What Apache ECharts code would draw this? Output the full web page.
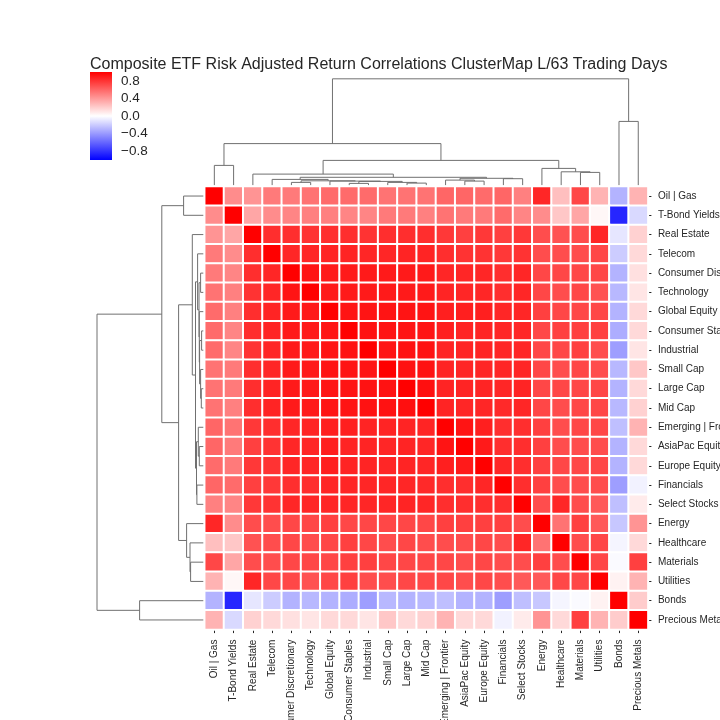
<!DOCTYPE html>
<html><head><meta charset="utf-8">
<script src="https://cdn.jsdelivr.net/npm/echarts@6/dist/echarts.min.js"></script>
<style>html,body{margin:0;padding:0;background:#fff}#c{width:720px;height:720px}</style>
</head><body><div id="c"></div>
<script>
// ---- data ----
const labels = ['Oil | Gas','T-Bond Yields','Real Estate','Telecom','Consumer Discretionary','Technology','Global Equity','Consumer Staples','Industrial','Small Cap','Large Cap','Mid Cap','Emerging | Frontier','AsiaPac Equity','Europe Equity','Financials','Select Stocks','Energy','Healthcare','Materials','Utilities','Bonds','Precious Metals'];

// lower triangle of the correlation matrix (row i has i+1 values, ending with the diagonal)
const corrLower = [
 [1],
 [0.45,1],
 [0.42,0.35,1],
 [0.52,0.45,0.82,1],
 [0.52,0.48,0.82,0.85,1],
 [0.55,0.50,0.80,0.85,0.92,1],
 [0.58,0.50,0.82,0.86,0.90,0.90,1],
 [0.58,0.48,0.82,0.86,0.90,0.90,0.92,1],
 [0.58,0.48,0.80,0.85,0.90,0.90,0.92,0.93,1],
 [0.55,0.52,0.82,0.85,0.90,0.90,0.92,0.92,0.92,1],
 [0.55,0.52,0.82,0.86,0.90,0.90,0.92,0.92,0.93,0.93,1],
 [0.55,0.50,0.82,0.86,0.90,0.90,0.92,0.92,0.93,0.93,0.94,1],
 [0.60,0.55,0.78,0.82,0.85,0.86,0.88,0.88,0.86,0.86,0.86,0.86,1],
 [0.60,0.52,0.75,0.80,0.85,0.85,0.88,0.86,0.86,0.85,0.86,0.85,0.92,1],
 [0.58,0.52,0.78,0.80,0.85,0.85,0.88,0.86,0.86,0.85,0.86,0.85,0.88,0.90,1],
 [0.60,0.58,0.75,0.78,0.82,0.82,0.85,0.85,0.85,0.85,0.85,0.84,0.82,0.82,0.85,1],
 [0.50,0.48,0.78,0.80,0.85,0.85,0.85,0.85,0.85,0.85,0.86,0.85,0.82,0.82,0.82,0.82,1],
 [0.85,0.45,0.70,0.70,0.72,0.72,0.75,0.72,0.72,0.72,0.72,0.72,0.75,0.75,0.75,0.75,0.70,1],
 [0.25,0.22,0.68,0.70,0.72,0.70,0.72,0.75,0.72,0.70,0.72,0.70,0.70,0.70,0.72,0.70,0.85,0.55,1],
 [0.72,0.35,0.70,0.70,0.72,0.72,0.72,0.75,0.75,0.72,0.72,0.72,0.72,0.70,0.72,0.70,0.70,0.75,0.70,1],
 [0.30,0.03,0.85,0.72,0.72,0.68,0.72,0.75,0.70,0.70,0.72,0.72,0.72,0.70,0.72,0.70,0.65,0.65,0.72,0.72,1],
 [-0.30,-0.85,-0.10,-0.20,-0.30,-0.28,-0.30,-0.32,-0.38,-0.28,-0.30,-0.28,-0.25,-0.30,-0.30,-0.38,-0.25,-0.22,-0.04,-0.02,0.05,1],
 [0.30,-0.15,0.18,0.15,0.12,0.10,0.15,0.15,0.10,0.22,0.15,0.18,0.30,0.15,0.15,-0.05,0.08,0.42,0.15,0.75,0.30,0.20,1]
];

// hierarchical linkage (scipy style): [childA, childB, height]; new clusters numbered from 23
const linkage = [
 [7,8,1.7],[10,11,2.0],[4,5,2.7],[9,24,2.7],[23,26,3.7],[6,27,4.0],[13,14,4.0],
 [25,28,4.3],[12,29,5.0],[3,30,5.7],[15,16,6.4],[31,33,6.8],[32,34,7.8],[2,35,11.0],
 [19,20,12.7],[18,37,13.3],[17,38,16.7],[0,1,19.7],[36,39,24.7],[40,41,41.5],
 [21,22,63.7],[42,43,106.3]
];

const cbTicks = [0.8, 0.4, 0.0, -0.4, -0.8];
const titleText = 'Composite ETF Risk Adjusted Return Correlations ClusterMap L/63 Trading Days';

// ---- build ----
const N = labels.length;
const heatData = [];
for (let i = 0; i < N; i++) for (let j = 0; j < N; j++) {
  const v = j <= i ? corrLower[i][j] : corrLower[j][i];
  heatData.push([j, i, v]);
}
const pos = {}, hgt = {}; const links = [];
for (let i = 0; i < N; i++) { pos[i] = i; hgt[i] = 0; }
linkage.forEach((l, k) => {
  const id = N + k, a = l[0], b = l[1], h = l[2];
  links.push([pos[a], hgt[a], pos[b], hgt[b], h]);
  pos[id] = (pos[a] + pos[b]) / 2; hgt[id] = h;
});
const maxH = Math.max(...linkage.map(l => l[2])) * 1.05;

const FONT = '"Liberation Sans", Arial, sans-serif';
const TXT = '#262626';
const DCOL = '#707070';

const HM = {left: 204.7, top: 186.4, w: 443.2, h: 443.2};

function topLink(params, api) {
  const p = [[api.value(0), api.value(1)], [api.value(0), api.value(4)], [api.value(2), api.value(4)], [api.value(2), api.value(3)]].map(q => api.coord(q));
  return {type: 'polyline', shape: {points: p}, style: {stroke: DCOL, lineWidth: 1, fill: null}};
}
function leftLink(params, api) {
  const p = [[api.value(1), api.value(0)], [api.value(4), api.value(0)], [api.value(4), api.value(2)], [api.value(3), api.value(2)]].map(q => api.coord(q));
  return {type: 'polyline', shape: {points: p}, style: {stroke: DCOL, lineWidth: 1, fill: null}};
}
function cbRect(params, api) {
  const a = api.coord([0, 1]), b = api.coord([1, -1]);
  return {type: 'rect', shape: {x: a[0], y: a[1], width: b[0] - a[0], height: b[1] - a[1]},
    style: {fill: new echarts.graphic.LinearGradient(0, 0, 0, 1, [
      {offset: 0, color: '#ff0000'}, {offset: 0.5, color: '#ffffff'}, {offset: 1, color: '#0000ff'}])}};
}
const fmt = v => (v < 0 ? '\u2212' : '') + Math.abs(v).toFixed(1);

const G = (o) => Object.assign({containLabel: false, outerBoundsMode: 'none'}, o);

const chart = echarts.init(document.getElementById('c'), null, {renderer: 'canvas'});
chart.setOption({
  animation: false,
  backgroundColor: '#ffffff',
  textStyle: {fontFamily: FONT},
  title: {text: titleText, left: 85, top: 52, textStyle: {fontSize: 16, fontWeight: 'normal', color: TXT, fontFamily: FONT}},
  grid: [
    G({left: HM.left, top: HM.top, width: HM.w, height: HM.h}),
    G({left: HM.left, top: 185.1 - 111.6, width: HM.w, height: 111.6}),
    G({left: 203.3 - 111.6, top: HM.top, width: 111.6, height: HM.h}),
    G({left: 90, top: 72, width: 22, height: 88})
  ],
  xAxis: [
    {type: 'category', gridIndex: 0, data: labels, position: 'bottom',
     axisLine: {show: false}, splitLine: {show: false},
     axisTick: {show: true, alignWithLabel: true, length: 3.5, lineStyle: {color: TXT, width: 1}},
     axisLabel: {rotate: 90, interval: 0, fontSize: 10, color: TXT, margin: 10, fontFamily: FONT}},
    {type: 'value', gridIndex: 1, min: -0.5, max: N - 0.5, show: false},
    {type: 'value', gridIndex: 2, min: 0, max: maxH, inverse: true, show: false},
    {type: 'value', gridIndex: 3, min: 0, max: 1, show: false}
  ],
  yAxis: [
    {type: 'category', gridIndex: 0, data: labels, inverse: true, position: 'right',
     axisLine: {show: false}, splitLine: {show: false},
     axisTick: {show: true, alignWithLabel: true, length: 3.5, lineStyle: {color: TXT, width: 1}},
     axisLabel: {interval: 0, fontSize: 10, color: TXT, margin: 10, fontFamily: FONT}},
    {type: 'value', gridIndex: 1, min: 0, max: maxH, show: false},
    {type: 'value', gridIndex: 2, min: -0.5, max: N - 0.5, inverse: true, show: false},
    {type: 'value', gridIndex: 3, min: -1, max: 1, position: 'right',
     axisLine: {show: false}, splitLine: {show: false},
     axisTick: {show: true, length: 3.5, customValues: cbTicks, lineStyle: {color: TXT, width: 1}},
     axisLabel: {show: true, customValues: cbTicks, formatter: fmt, fontSize: 13.5, color: TXT, margin: 9, fontFamily: FONT}}
  ],
  visualMap: {type: 'continuous', show: false, min: -1, max: 1, seriesIndex: 0, dimension: 2,
    inRange: {color: ['#0000ff', '#ffffff', '#ff0000']}},
  series: [
    {type: 'heatmap', xAxisIndex: 0, yAxisIndex: 0, data: heatData,
     itemStyle: {borderColor: '#ffffff', borderWidth: 2}, emphasis: {disabled: true}},
    {type: 'custom', xAxisIndex: 1, yAxisIndex: 1, data: links, renderItem: topLink, silent: true,
     encode: {x: [0, 2], y: [1, 3, 4]}},
    {type: 'custom', xAxisIndex: 2, yAxisIndex: 2, data: links, renderItem: leftLink, silent: true,
     encode: {x: [1, 3, 4], y: [0, 2]}},
    {type: 'custom', xAxisIndex: 3, yAxisIndex: 3, data: [[0, -1, 1, 1]], renderItem: cbRect, silent: true,
     encode: {x: [0, 2], y: [1, 3]}}
  ]
});
</script></body></html>
